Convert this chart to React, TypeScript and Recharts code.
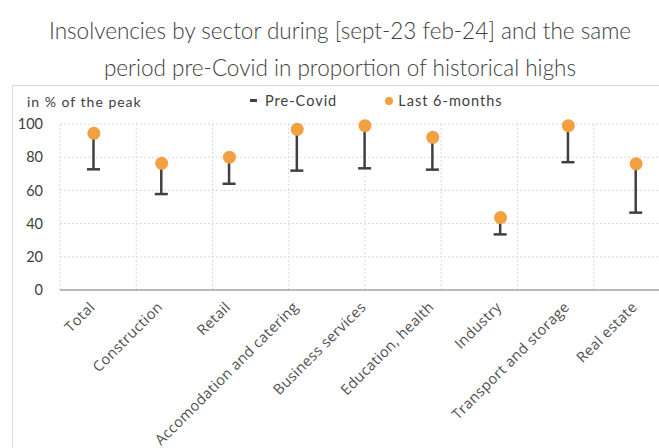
import React from 'react';
import { ComposedChart, Bar, Line, XAxis, YAxis, CartesianGrid } from 'recharts';

const categories = [
  'Total',
  'Construction',
  'Retail',
  'Accomodation and catering',
  'Business services',
  'Education, health',
  'Industry',
  'Transport and storage',
  'Real estate',
];
const preCovid = [72.7, 57.8, 64, 71.9, 73.3, 72.5, 33.5, 77, 46.6];
const last6Months = [94.4, 76.3, 80, 96.8, 99, 92, 43.6, 99, 76];
const yTicks = [0, 20, 40, 60, 80, 100];
const gridTicks = [0, 1, 2, 3, 4, 5, 6, 7, 8, 9];

const data = categories.map((name, i) => ({
  name,
  pre: preCovid[i],
  last: last6Months[i],
  range: [preCovid[i], last6Months[i]],
}));

const ORANGE = '#F2A040';
const DARK = '#404040';
const TEXT = '#505050';

const RangeShape = (props: any) => {
  const { x, y, width, height } = props;
  const cx = x + width / 2;
  const bottom = y + height;
  return (
    <g>
      <line x1={cx} y1={y} x2={cx} y2={bottom} stroke={DARK} strokeWidth={2.5} />
      <line x1={x} y1={bottom} x2={x + width} y2={bottom} stroke={DARK} strokeWidth={2.5} />
    </g>
  );
};

const XTick = (props: any) => {
  const { x, y, payload } = props;
  const tx = x + 2;
  const ty = y + 10;
  return (
    <text
      x={tx}
      y={ty}
      textAnchor="end"
      fill={TEXT}
      fontSize={14.5}
      letterSpacing={0.4}
      fontFamily="'Open Sans', sans-serif"
      transform={`rotate(-45, ${tx}, ${ty})`}
    >
      {payload.value}
    </text>
  );
};

export default function App() {
  return (
    <div style={{ position: 'absolute', left: 0, top: 0, width: 659, height: 448, overflow: 'hidden', background: '#fff' }}>
      <div
        style={{
          position: 'absolute',
          left: 0,
          top: 12,
          width: 680,
          textAlign: 'center',
          fontFamily: "'Lato', sans-serif",
          fontWeight: 300,
          fontSize: 22.5,
          lineHeight: '37px',
          color: DARK,
        }}
      >
        Insolvencies by sector during [sept-23 feb-24] and the same
        <br />
        period pre-Covid in proportion of historical highs
      </div>
      <div style={{ position: 'absolute', left: 12, top: 85, width: 660, height: 380, borderTop: '1px solid #d9d9d9', borderLeft: '1px solid #d9d9d9' }} />
      <div style={{ position: 'absolute', left: 27, top: 93, fontFamily: "'Lato', sans-serif", fontSize: 14, letterSpacing: 1, color: DARK }}>
        in % of the peak
      </div>
      <div
        style={{
          position: 'absolute',
          left: 250,
          top: 92,
          display: 'flex',
          alignItems: 'center',
          fontFamily: "'Lato', sans-serif",
          fontSize: 14.5,
          letterSpacing: 1,
          color: DARK,
        }}
      >
        <span style={{ display: 'inline-block', width: 7, height: 3, background: DARK, marginRight: 8 }} />
        <span style={{ marginRight: 48 }}>Pre-Covid</span>
        <span style={{ display: 'inline-block', width: 8, height: 8, borderRadius: 4, background: ORANGE, marginRight: 5 }} />
        <span>Last 6-months</span>
      </div>
      <div style={{ position: 'absolute', left: 0, top: 0 }}>
        <ComposedChart width={672} height={448} data={data} margin={{ top: 124, right: 2, bottom: 8, left: 0 }}>
          <CartesianGrid xAxisId="grid" stroke="#d9d9d9" strokeDasharray="2 2" />
          <XAxis xAxisId="grid" type="number" domain={[0, 9]} ticks={gridTicks} hide />
          <XAxis
            dataKey="name"
            interval={0}
            tickLine={false}
            axisLine={{ stroke: '#a6a6a6', strokeWidth: 1.5 }}
            height={150}
            tick={<XTick />}
          />
          <YAxis
            domain={[0, 100]}
            ticks={yTicks}
            width={60}
            tickLine={false}
            axisLine={false}
            tickMargin={11}
            tick={{ fill: DARK, fontSize: 14.5, fontFamily: "'Lato', sans-serif" }}
          />
          <Bar dataKey="range" barSize={13} shape={<RangeShape />} isAnimationActive={false} />
          <Line
            dataKey="last"
            stroke="none"
            dot={{ r: 6.5, fill: ORANGE, stroke: 'none' }}
            activeDot={false}
            isAnimationActive={false}
          />
        </ComposedChart>
      </div>
    </div>
  );
}
